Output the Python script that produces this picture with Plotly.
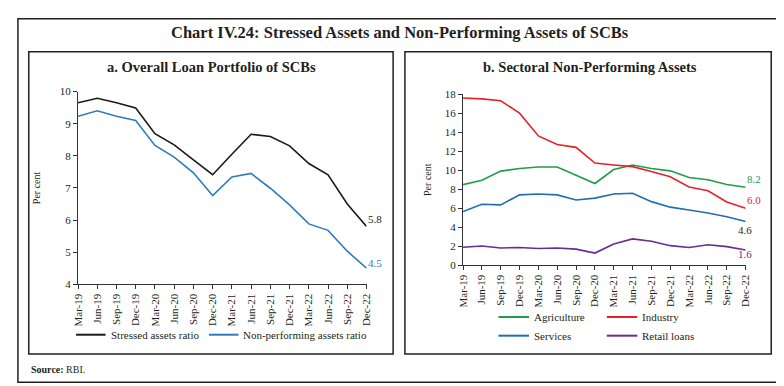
import plotly.graph_objects as go

W, H = 784, 386

quarters = ["Mar-19", "Jun-19", "Sep-19", "Dec-19", "Mar-20", "Jun-20", "Sep-20", "Dec-20",
            "Mar-21", "Jun-21", "Sep-21", "Dec-21", "Mar-22", "Jun-22", "Sep-22", "Dec-22"]

stressed = [9.65, 9.79, 9.65, 9.49, 8.69, 8.34, 7.87, 7.41, 8.05, 8.67, 8.60, 8.31, 7.76, 7.41, 6.50, 5.8]
npa = [9.23, 9.40, 9.23, 9.10, 8.32, 7.96, 7.47, 6.76, 7.34, 7.45, 6.99, 6.47, 5.88, 5.68, 5.03, 4.5]

agriculture = [8.48, 8.95, 9.90, 10.17, 10.34, 10.34, 9.46, 8.60, 10.07, 10.55, 10.17, 9.93, 9.22, 9.00, 8.50, 8.2]
industry = [17.6, 17.5, 17.3, 16.0, 13.6, 12.7, 12.4, 10.75, 10.55, 10.37, 9.85, 9.30, 8.24, 7.83, 6.65, 6.0]
services = [5.64, 6.42, 6.35, 7.40, 7.50, 7.40, 6.86, 7.06, 7.50, 7.57, 6.69, 6.11, 5.81, 5.50, 5.10, 4.6]
retail = [1.89, 2.03, 1.82, 1.86, 1.76, 1.82, 1.69, 1.28, 2.23, 2.77, 2.53, 2.06, 1.86, 2.16, 1.96, 1.6]

yticks_a = [4, 5, 6, 7, 8, 9, 10]
yticks_b = [0, 2, 4, 6, 8, 10, 12, 14, 16, 18]

FONT = "Liberation Serif"
TXT = "#231f20"

def px(x):
    return x / W

def py(y):
    return (H - y) / H

xs = list(range(len(quarters)))

fig = go.Figure()

series_a = [("Stressed assets ratio", stressed, "#1a1a1a"),
            ("Non-performing assets ratio", npa, "#2e7cc0")]
series_b = [("Agriculture", agriculture, "#1f9d4a"),
            ("Industry", industry, "#e8202a"),
            ("Services", services, "#1f6db3"),
            ("Retail loans", retail, "#6a2c8e")]

for name, vals, col in series_a:
    fig.add_trace(go.Scatter(x=xs, y=vals, mode="lines", name=name,
                             line=dict(color=col, width=1.6), xaxis="x", yaxis="y",
                             showlegend=False))
for name, vals, col in series_b:
    fig.add_trace(go.Scatter(x=xs, y=vals, mode="lines", name=name,
                             line=dict(color=col, width=1.6), xaxis="x2", yaxis="y2",
                             showlegend=False))

axis_common = dict(showgrid=False, zeroline=False, showline=True, linecolor="#333",
                   linewidth=1, ticks="outside", ticklen=4, tickcolor="#333",
                   tickfont=dict(family=FONT, size=11, color=TXT))

fig.update_layout(
    width=W, height=H,
    margin=dict(l=0, r=0, t=0, b=0),
    paper_bgcolor="white", plot_bgcolor="white",
    font=dict(family=FONT, color=TXT),
    xaxis=dict(domain=[px(65), px(358)], range=[0, 15], tickvals=xs, ticktext=quarters,
               tickangle=-90, anchor="y", **axis_common),
    yaxis=dict(domain=[py(279), py(80)], range=[4, 10], tickvals=yticks_a, anchor="x",
               title=dict(text="Per cent", font=dict(family=FONT, size=10, color=TXT), standoff=17),
               **axis_common),
    xaxis2=dict(domain=[px(456), px(743)], range=[0, 15], tickvals=xs, ticktext=quarters,
                tickangle=-90, anchor="y2", **axis_common),
    yaxis2=dict(domain=[py(259.3), py(82.7)], range=[0, 18], tickvals=yticks_b, anchor="x2",
                title=dict(text="Per cent", font=dict(family=FONT, size=10, color=TXT), standoff=11),
                **axis_common),
)

shapes = []
def rect(x0, y0, x1, y1, w=1.5):
    shapes.append(dict(type="rect", xref="paper", yref="paper",
                       x0=px(x0), x1=px(x1), y0=py(y1), y1=py(y0),
                       line=dict(color="#231f20", width=w), fillcolor="rgba(0,0,0,0)"))

rect(4, 5, 779, 380)
rect(15, 39, 385, 351)
rect(397, 39, 769, 351)

annotations = []
def text(x, y, s, size=11, xanchor="left", color=TXT):
    annotations.append(dict(xref="paper", yref="paper", x=px(x), y=py(y), text=s,
                            showarrow=False, xanchor=xanchor, yanchor="middle",
                            font=dict(family=FONT, size=size, color=color)))

def legend_item(x0, x1, y, name, col):
    shapes.append(dict(type="line", xref="paper", yref="paper",
                       x0=px(x0), x1=px(x1), y0=py(y), y1=py(y),
                       line=dict(color=col, width=2)))
    text(x1 + 3, y, name, size=11)

text(392, 19, "<b>Chart IV.24: Stressed Assets and Non-Performing Assets of SCBs</b>", size=16.5, xanchor="center")
text(201, 55, "<b>a. Overall Loan Portfolio of SCBs</b>", size=14.5, xanchor="center")
text(585, 55, "<b>b. Sectoral Non-Performing Assets</b>", size=14.5, xanchor="center")
text(15, 367, "<b>Source:</b> RBI.", size=10)

legend_item(63, 93, 331, series_a[0][0], series_a[0][2])
legend_item(198, 228, 331, series_a[1][0], series_a[1][2])
legend_item(492, 523, 312.7, series_b[0][0], series_b[0][2])
legend_item(602, 633, 312.7, series_b[1][0], series_b[1][2])
legend_item(492, 523, 332, series_b[2][0], series_b[2][2])
legend_item(602, 633, 332, series_b[3][0], series_b[3][2])

def endlabel(xa, ya, val, col, xshift, yshift, xanchor="left"):
    annotations.append(dict(xref=xa, yref=ya, x=xs[-1], y=val, text=f"{val:.1f}",
                            showarrow=False, xanchor=xanchor, yanchor="middle",
                            xshift=xshift, yshift=yshift,
                            font=dict(family=FONT, size=11, color=col)))

endlabel("x", "y", stressed[-1], "#1a1a1a", -1, 7)
endlabel("x", "y", npa[-1], "#2e7cc0", -1, 5)
endlabel("x2", "y2", agriculture[-1], "#1f9d4a", -1, 8)
endlabel("x2", "y2", industry[-1], "#e8202a", -1, 8)
endlabel("x2", "y2", services[-1], "#231f20", -1, -8, "center")
endlabel("x2", "y2", retail[-1], "#6a2c8e", -1, -4, "center")

fig.update_layout(shapes=shapes, annotations=annotations)

fig.write_html("out.html")
